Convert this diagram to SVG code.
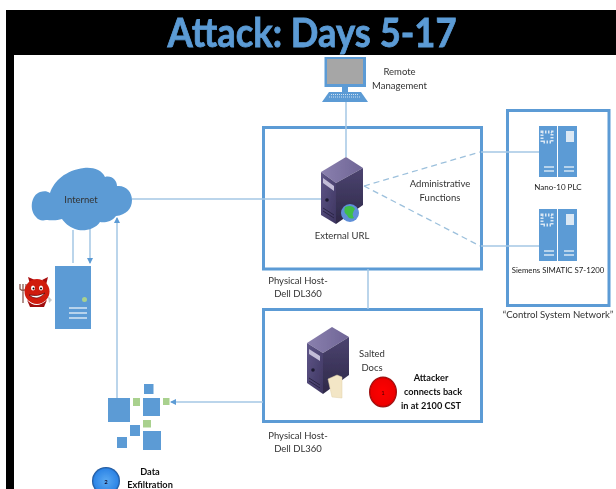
<svg xmlns="http://www.w3.org/2000/svg" width="616" height="489" viewBox="0 0 616 489">
<defs>
<filter id="soft" x="-2%" y="-2%" width="104%" height="104%"><feGaussianBlur stdDeviation="0.5"/></filter>
<marker id="arr" markerWidth="6" markerHeight="6" refX="5" refY="3" orient="auto" markerUnits="userSpaceOnUse"><path d="M0 0L6 3L0 6Z" fill="#5b9bd5"/></marker>
<linearGradient id="srvL" x1="0" y1="0" x2="1" y2="1"><stop offset="0" stop-color="#5f5688"/><stop offset="1" stop-color="#3d3560"/></linearGradient>
<linearGradient id="srvR" x1="0" y1="0" x2="0" y2="1"><stop offset="0" stop-color="#4c4470"/><stop offset="1" stop-color="#2e2848"/></linearGradient>
<linearGradient id="srvT" x1="0" y1="0" x2="1" y2="0"><stop offset="0" stop-color="#8a80ae"/><stop offset="1" stop-color="#6f6596"/></linearGradient>
<radialGradient id="red" cx="0.5" cy="0.5" r="0.5"><stop offset="0" stop-color="#ff0000"/><stop offset="0.85" stop-color="#ee0000"/><stop offset="1" stop-color="#8a1010"/></radialGradient>
<radialGradient id="blu" cx="0.5" cy="0.5" r="0.5"><stop offset="0" stop-color="#5aa9f2"/><stop offset="0.85" stop-color="#2f86e6"/><stop offset="1" stop-color="#1d4f90"/></radialGradient>
</defs>
<style>
text{font-family:Lato,"Liberation Sans",sans-serif;fill:#333;font-size:9.500px;text-anchor:middle}
.b{font-weight:bold;fill:#111;font-size:9.200px}
.frame{fill:#fff;stroke:#5b9bd5;stroke-width:3}
.line{fill:none;stroke:#a4c7e4;stroke-width:1.5}
.dash{fill:none;stroke:#9cc0dc;stroke-width:1.3;stroke-dasharray:6 4}
.fill{fill:#5b9bd5}
.g{fill:#a9d18e}
.st{fill:none;stroke:#d6e6f4;stroke-width:1.5}
</style>
<g filter="url(#soft)">
<rect id="background" x="0" y="0" width="616" height="489" fill="#fff"/>
<path id="mat" fill="#000" fill-rule="evenodd" d="M6 10H616V55H14V489H6Z"/>
<text id="title" x="312" y="47" textLength="289" lengthAdjust="spacingAndGlyphs" style="font-size:40px;font-weight:bold;fill:#5b9bd5;stroke:#5b9bd5;stroke-width:0.8px">Attack: Days 5-17</text>

<g id="frames">
<rect id="host-top" class="frame" x="263.500" y="127.500" width="218" height="141.500"/>
<rect id="host-bottom" class="frame" x="263.500" y="309.500" width="218" height="112"/>
<rect id="control-net" class="frame" x="507.500" y="110.500" width="101.500" height="195"/>
</g>

<g id="connectors">
<path class="line" d="M346 102V157"/>
<path class="line" d="M132 199H321"/>
<path class="line" d="M368 269V309"/>
<path class="dash" d="M364 186L480 152"/>
<path class="dash" d="M364 186L480 246"/>
<path class="line" d="M481 152H539"/>
<path class="line" d="M481 246H539"/>
<path class="line" d="M73 230V263"/>
<path class="line" d="M90 228V263" marker-end="url(#arr)"/>
<path class="line" d="M117 398V218" marker-end="url(#arr)"/>
<path class="line" d="M263 402H171" marker-end="url(#arr)"/>
</g>

<g id="remote-management">
<rect x="324.500" y="57" width="41.500" height="30" fill="#5b9bd5"/>
<rect x="327" y="59" width="36" height="25" fill="#a6a6a6"/>
<rect x="342" y="87" width="6" height="5" fill="#5b9bd5"/>
<path d="M329 92H361L368 102H322Z" fill="#5b9bd5"/>
<path d="M331 94.500H359M329 97H361" stroke="#cfe0f0" stroke-width="1" stroke-dasharray="1 1"/>
<text x="399.500" y="75">Remote</text>
<text x="399.500" y="89">Management</text>
</g>

<g id="internet">
<path class="fill" d="M36 217C29 210 31 195 40 192C44 191 47 191 50 193C54 181 66 170 84 168C93 167 102 170 105 177C112 175 117 181 117 186C126 185 132 192 132 200C132 209 126 215 116 216C112 222 104 223 100 222C95 230 82 232 75 229C69 227 64 222 62 219C56 221 50 220 46 220C42 221 38 220 36 217Z"/>
<text x="81" y="202.500">Internet</text>
</g>

<g id="attacker-server">
<rect class="fill" x="55" y="266" width="36" height="63"/>
<circle cx="84.500" cy="299.500" r="2.500" fill="#a9d18e"/>
<path class="st" d="M69 308H87M69 313H87M69 318H87"/>
</g>

<g id="devil">
<path d="M23 284V303M20 284V289Q23 292 26 289V284" fill="none" stroke="#8a5a50" stroke-width="1.300"/>
<path d="M30 284L28 277L35 280ZM42 280L48 277L46 285Z" fill="#a81010"/>
<circle cx="37" cy="291.500" r="12.500" fill="#d01a10"/>
<path d="M27 300Q36 310 47 300L44 307H30Z" fill="#a01010"/>
<path d="M48 296L52 300L49 303Z" fill="#c8c8c8"/>
<ellipse cx="33" cy="288" rx="2" ry="2.500" fill="#fff"/>
<ellipse cx="41" cy="288" rx="2" ry="2.500" fill="#fff"/>
<path d="M29 295Q37 302 45 293Q38 297 29 295Z" fill="#fff" stroke="#400" stroke-width="0.6"/>
<circle cx="33.500" cy="288.500" r="1" fill="#000"/>
<circle cx="41" cy="288.500" r="1" fill="#000"/>
</g>

<g id="external-url">
<path d="M321 172L346 157L363 168L336 183Z" fill="url(#srvT)"/>
<path d="M321 172L336 183V224L321 215Z" fill="url(#srvL)"/>
<path d="M336 183L363 168V205L336 224Z" fill="url(#srvR)"/>
<path d="M323 178L334 186V191L323 183Z" fill="#c3bdd8"/>
<circle cx="327" cy="200" r="1.800" fill="#1f1a33"/>
<path d="M323 208L334 215M323 211L334 218" stroke="#2b2545" stroke-width="1"/>
<circle cx="350" cy="213" r="9" fill="#5f8fd8"/>
<path d="M345 207Q352 204 355 209Q351 214 354 218Q349 220 347 215Q343 212 345 207Z" fill="#3fbf4a"/>
<text x="342" y="238.500">External URL</text>
</g>
<text id="label-host-top-1" x="298" y="284">Physical Host-</text>
<text id="label-host-top-2" x="298" y="297">Dell DL360</text>
<text id="label-admin-1" x="440" y="187">Administrative</text>
<text id="label-admin-2" x="440" y="201">Functions</text>

<g id="nano-plc">
<rect class="fill" x="539" y="126" width="38" height="51"/>
<path d="M557.500 126V177" stroke="#fff" stroke-width="1"/>
<path d="M542 132H552V142H542Z" fill="none" stroke="#dbe8f4" stroke-width="3" stroke-dasharray="1.500 1.500"/>
<rect x="566" y="131" width="8" height="11" fill="#dbe8f4"/>
<path class="st" d="M544 167H554M544 171H554M564 167H574M564 171H574" stroke-width="1"/>
<text x="558" y="190" style="font-size:8px;fill:#222">Nano-10 PLC</text>
</g>

<g id="siemens-plc">
<rect class="fill" x="539" y="209" width="38" height="52"/>
<path d="M557.500 209V261" stroke="#fff" stroke-width="1"/>
<path d="M542 215H552V225H542Z" fill="none" stroke="#dbe8f4" stroke-width="3" stroke-dasharray="1.500 1.500"/>
<rect x="566" y="214" width="8" height="11" fill="#dbe8f4"/>
<path class="st" d="M544 251H554M544 255H554M564 251H574M564 255H574" stroke-width="1"/>
<text x="558" y="273" style="font-size:7.800px;fill:#222">Siemens SIMATIC S7-1200</text>
</g>
<text id="label-control" x="558" y="318" style="font-size:9.600px">“Control System Network”</text>

<g id="salted-docs">
<path d="M307 343L332 327L349 337L323 353Z" fill="url(#srvT)"/>
<path d="M307 343L323 353V394L307 383Z" fill="url(#srvL)"/>
<path d="M323 353L349 337V375L323 394Z" fill="url(#srvR)"/>
<path d="M309 349L320 356V361L309 354Z" fill="#c3bdd8"/>
<circle cx="313" cy="370" r="1.800" fill="#1f1a33"/>
<path d="M309 378L320 385M309 381L320 388" stroke="#2b2545" stroke-width="1"/>
<path d="M328 379L337 375L342 377V398L332 397Z" fill="#f3e6c6" stroke="#e0d0a8" stroke-width="0.5"/>
<text x="372" y="356.500">Salted</text>
<text x="372" y="370.500">Docs</text>
</g>
<text id="label-host-bottom-1" x="298" y="438.500">Physical Host-</text>
<text id="label-host-bottom-2" x="298" y="451.500">Dell DL360</text>

<g id="step-1">
<ellipse cx="383" cy="392" rx="14" ry="15.500" fill="url(#red)"/>
<text x="383" y="394.500" style="font-size:6px;fill:#400">1</text>
<text class="b" x="431" y="381">Attacker</text>
<text class="b" x="433" y="395">connects back</text>
<text class="b" x="431" y="409">in at 2100 CST</text>
</g>

<g id="data-exfil-cluster">
<rect class="fill" x="108" y="398" width="22" height="24"/>
<rect class="fill" x="144" y="384" width="9.500" height="10"/>
<rect class="g" x="133" y="398" width="7" height="8"/>
<rect class="fill" x="143" y="398" width="17" height="18"/>
<rect class="g" x="163" y="398" width="6.500" height="7"/>
<rect class="g" x="143" y="420" width="8" height="7.500"/>
<rect class="fill" x="130" y="425" width="10" height="11"/>
<rect class="fill" x="143" y="431" width="18" height="19"/>
<rect class="fill" x="117" y="437" width="10" height="11"/>
</g>

<g id="step-2">
<circle cx="106" cy="481" r="14" fill="url(#blu)"/>
<text x="106" y="483.500" style="font-size:6px;font-weight:bold;fill:#113">2</text>
<text class="b" x="150" y="475">Data</text>
<text class="b" x="150" y="488">Exfiltration</text>
</g>
</g>
</svg>
